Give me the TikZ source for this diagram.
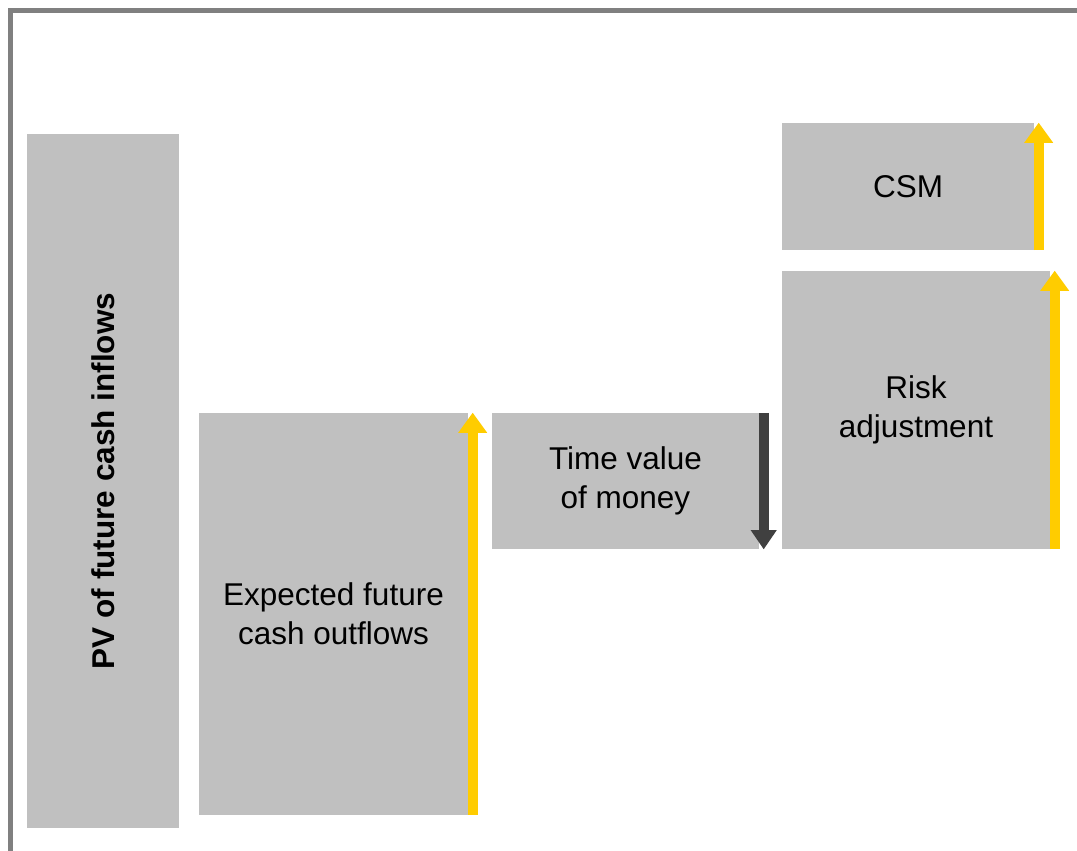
\documentclass[tikz,border=0pt]{standalone}
\usepackage{fontspec}
\setmainfont{Liberation Sans}
\usetikzlibrary{arrows.meta}

\definecolor{boxgray}{RGB}{192,192,192}
\definecolor{framegray}{RGB}{128,128,128}
\definecolor{upyellow}{RGB}{255,204,0}
\definecolor{downdark}{RGB}{64,64,64}

\begin{document}
\begin{tikzpicture}[x=1pt,y=-1pt,
  block/.style={fill=boxgray, inner sep=0pt, align=center,
    font=\fontsize{31.5}{39}\selectfont},
  riseup/.style={draw=upyellow, line width=10pt,
    -{Triangle[length=20pt,width=29pt,line width=0pt]}},
  falldown/.style={draw=downdark, line width=10pt,
    -{Triangle[length=19pt,width=26pt,line width=0pt]}},
  frameline/.style={draw=framegray, line width=5.5pt}]

\useasboundingbox (0,0) rectangle (1077,851);
\clip (0,0) rectangle (1077,851);
\fill[white] (0,0) rectangle (1077,851);

% outer frame (left and top edges)
\draw[frameline] (10.5,870) -- (10.5,10.5) -- (1100,10.5);

% bars
\node[block, minimum width=152pt, minimum height=694pt] (pv) at (103,481)
  {\rotatebox{90}{\bfseries\fontsize{31.5}{36}\selectfont PV of future cash inflows}};
\node[block, minimum width=269pt, minimum height=402pt] (exp) at (333.5,614)
  {Expected future\\cash outflows};
\node[block, minimum width=267pt, minimum height=136pt] (tvm) at (625.5,481)
  {Time value\\of money};
\node[block, minimum width=268pt, minimum height=278pt] (ra) at (916,410)
  {Risk\\adjustment};
\node[block, minimum width=252pt, minimum height=127pt] (csm) at (908,186.5)
  {CSM};

% movement arrows along the bar edges
\draw[riseup] ([xshift=4.5pt]exp.south east) -- ([xshift=4.5pt]exp.north east);
\draw[falldown] ([xshift=4.5pt]tvm.north east) -- ([xshift=4.5pt]tvm.south east);
\draw[riseup] ([xshift=4.5pt]ra.south east) -- ([xshift=4.5pt]ra.north east);
\draw[riseup] ([xshift=4.5pt]csm.south east) -- ([xshift=4.5pt]csm.north east);
\end{tikzpicture}
\end{document}
